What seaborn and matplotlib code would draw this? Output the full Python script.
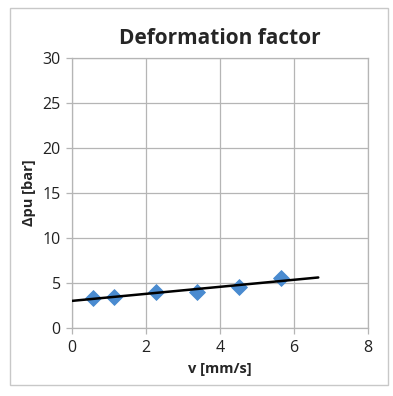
import matplotlib
matplotlib.use("Agg")
import matplotlib.pyplot as plt
import seaborn as sns
import pandas as pd
from matplotlib.patches import Rectangle

# Data
v_values = [0.56, 1.14, 2.26, 3.39, 4.52, 5.65]
dpu_values = [3.3, 3.4, 4.0, 4.0, 4.5, 5.5]
trend_x = [0.0, 6.66]
trend_y = [3.0, 5.6]
x_ticks = [0, 2, 4, 6, 8]
y_ticks = [0, 5, 10, 15, 20, 25, 30]

sns.set_theme(style="white")
plt.rcParams['font.family'] = ['Open Sans', 'DejaVu Sans']

fig = plt.figure(figsize=(3.93, 3.96), dpi=100)
ax = fig.add_axes([0.183, 0.172, 0.753, 0.682])

df = pd.DataFrame({"v": v_values, "dpu": dpu_values})
sns.scatterplot(data=df, x="v", y="dpu", marker="D", s=65, color="#4a8bd0",
                edgecolor="#4a8bd0", ax=ax, zorder=3)
sns.lineplot(x=trend_x, y=trend_y, color="black", linewidth=1.8, ax=ax, zorder=4)

ax.set_xlim(0, 8)
ax.set_ylim(0, 30)
ax.set_xticks(x_ticks)
ax.set_yticks(y_ticks)
ax.grid(True, color="#b5b5b5", linewidth=0.9)
for s in ax.spines.values():
    s.set_color("#b5b5b5")
    s.set_linewidth(0.9)
ax.tick_params(axis="both", labelsize=11.5, colors="#222222", length=4, width=0.9,
               direction="out")
ax.tick_params(axis="x", bottom=True, pad=5)
ax.tick_params(axis="y", left=True, pad=4, color="#b5b5b5")
ax.tick_params(axis="x", color="#b5b5b5")
ax.set_xlabel("v [mm/s]", fontsize=10.5, fontweight="bold", labelpad=4)
ax.set_ylabel("Δpu [bar]", fontsize=10.5, fontweight="bold", labelpad=5)
ax.set_title("Deformation factor", fontsize=15, fontweight="bold", pad=10)

fig.patches.append(Rectangle((10/393, 1-385/396), 378/393, 377/396, transform=fig.transFigure,
                             fill=False, edgecolor="#c8c8c8", linewidth=1))

fig.savefig("out.png", dpi=100)
